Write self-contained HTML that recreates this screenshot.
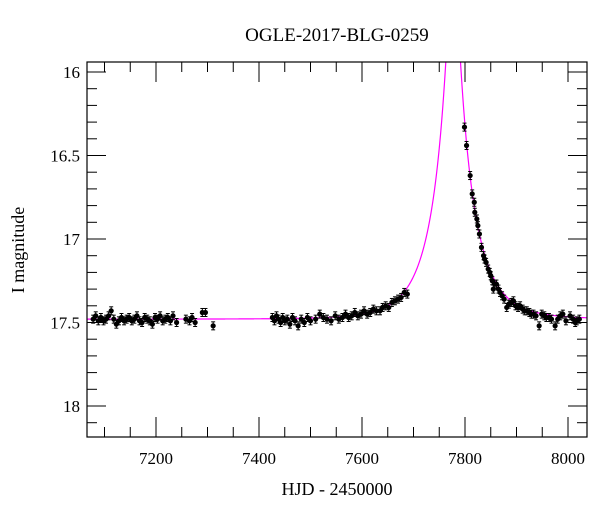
<!DOCTYPE html>
<html><head><meta charset="utf-8"><style>
body{margin:0;background:#fff}
svg{display:block;font-family:"Liberation Serif",serif}
</style></head><body>
<svg id="chart" width="600" height="512" viewBox="0 0 600 512">
<defs><clipPath id="clip"><rect x="87" y="62" width="500" height="375"/></clipPath></defs>
<text x="337" y="41" text-anchor="middle" font-size="19">OGLE-2017-BLG-0259</text>
<text x="337" y="495" text-anchor="middle" font-size="18">HJD - 2450000</text>
<text transform="translate(24,250) rotate(-90)" text-anchor="middle" font-size="18">I magnitude</text>
<g id="axes"></g>
<g id="model" clip-path="url(#clip)"></g>
<g id="pts" clip-path="url(#clip)"></g>
<rect x="87" y="62" width="500" height="375" fill="none" stroke="#000" stroke-width="1.2"/>
</svg>
<script>
const xTicks=[7200,7400,7600,7800,8000];
const yTicks=[16,16.5,17,17.5,18];
const yTickLabels=["16","16.5","17","17.5","18"];
const times=[7078,7083,7088,7093,7098,7103,7108,7113,7118,7123,7128,7133,7138,7143,7148,7153,7158,7163,7168,7173,7178,7183,7188,7193,7198,7203,7208,7213,7218,7223,7228,7233,7240,7258,7265,7270,7276,7290,7296,7311,
7426,7430,7434,7438,7442,7446,7450,7455,7460,7465,7470,7476,7482,7488,7494,7500,7510,7518,7525,7532,7540,7548,7555,7562,7568,7574,7580,7586,7592,7598,7604,7610,7616,7622,7628,7635,7640,7646,7652,7658,7664,7670,7676,7682,7688,
7799,7803,7810,7814,7818,7819,7823,7825,7828,7832,7836,7838,7841,7845,7848,7850,7853,7855,7858,7861,7865,7868,7872,7876,7881,7885,7890,7894,7898,7903,7907,7912,7916,7920,7925,7929,7933,7938,7944,7949,7954,7958,7963,7968,7975,7980,7985,7990,7996,8004,8010,8014,8017,8022];
const mags=[17.48,17.46,17.49,17.47,17.49,17.48,17.46,17.43,17.48,17.51,17.49,17.47,17.49,17.48,17.47,17.49,17.48,17.46,17.49,17.50,17.47,17.48,17.49,17.51,17.47,17.48,17.46,17.49,17.48,17.47,17.49,17.46,17.50,17.48,17.49,17.47,17.50,17.44,17.44,17.52,
17.47,17.49,17.46,17.48,17.50,17.47,17.49,17.48,17.51,17.47,17.49,17.52,17.48,17.50,17.47,17.49,17.48,17.45,17.47,17.48,17.49,17.46,17.48,17.47,17.45,17.47,17.46,17.44,17.46,17.45,17.43,17.45,17.44,17.42,17.43,17.43,17.41,17.40,17.41,17.38,17.37,17.36,17.35,17.32,17.33,
16.33,16.44,16.62,16.73,16.78,16.84,16.88,16.92,16.97,17.05,17.10,17.12,17.14,17.18,17.20,17.22,17.25,17.30,17.27,17.27,17.30,17.32,17.34,17.36,17.41,17.39,17.38,17.37,17.40,17.41,17.40,17.42,17.43,17.43,17.44,17.45,17.45,17.46,17.52,17.45,17.46,17.47,17.47,17.48,17.52,17.48,17.46,17.45,17.49,17.46,17.48,17.50,17.49,17.48];
const modelT0=7777, modelU0=0.136, modelTE=69, modelBase=17.48, modelFs=1.0;

const X=t=>156+(t-7200)*0.515;
const Y=m=>72+(m-16)*167;
const NS="http://www.w3.org/2000/svg";
function mk(tag,attrs,parent){const e=document.createElementNS(NS,tag);for(const k in attrs)e.setAttribute(k,attrs[k]);parent.appendChild(e);return e;}
const axes=document.getElementById('axes');
for(let t=7100;t<=8050;t+=50){const x=X(t);if(x<87||x>587)continue;const major=(t%200===0);const L=major?20:10;
 const a=mk('line',{x1:x,x2:x,y1:437,y2:437-L,stroke:'#000','stroke-width':1},axes);
 
 
 const b=mk('line',{x1:x,x2:x,y1:62,y2:62+L,stroke:'#000','stroke-width':1},axes);
 
 }
xTicks.forEach(t=>{const tx=mk('text',{x:X(t),y:464,'text-anchor':'middle','font-size':17},axes);tx.textContent=t;
 
 });
for(let i=0;i<=22;i++){const m=15.9+i*0.1;const y=Y(m);if(y<62||y>437)continue;const major=Math.abs(m*2-Math.round(m*2))<1e-6;const L=major?19:10;
 const a=mk('line',{x1:87,x2:87+L,y1:y,y2:y,stroke:'#000','stroke-width':1},axes);
 
 
 const b=mk('line',{x1:587,x2:587-L,y1:y,y2:y,stroke:'#000','stroke-width':1},axes);
 
 }
yTicks.forEach((m,i)=>{const tx=mk('text',{x:80,y:Y(m)+6,'text-anchor':'end','font-size':17},axes);tx.textContent=yTickLabels[i];
 
 });
let d='';
for(let t=7060;t<=8040;t+=0.5){const dt=(t-modelT0)/modelTE;const u=Math.sqrt(modelU0*modelU0+dt*dt);const A=(u*u+2)/(u*Math.sqrt(u*u+4));
 const m=modelBase-2.5*Math.log10(modelFs*A+1-modelFs);d+=(d?'L':'M')+X(t).toFixed(2)+','+Math.max(Y(m),-50).toFixed(2);}
const pth=mk('path',{d:d,fill:'none',stroke:'#ff00ff','stroke-width':1.2},document.getElementById('model'));


const pts=document.getElementById('pts');
times.forEach((t,i)=>{const x=X(t),y=Y(mags[i]);const e=4;
 const g=mk('g',{},pts);
 
 
 mk('line',{x1:x,x2:x,y1:y-e,y2:y+e,stroke:'#000','stroke-width':1},g);
 mk('line',{x1:x-2,x2:x+2,y1:y-e,y2:y-e,stroke:'#000','stroke-width':1},g);
 mk('line',{x1:x-2,x2:x+2,y1:y+e,y2:y+e,stroke:'#000','stroke-width':1},g);
 mk('circle',{cx:x,cy:y,r:2.6,fill:'#000'},g);});
</script>
</body></html>
